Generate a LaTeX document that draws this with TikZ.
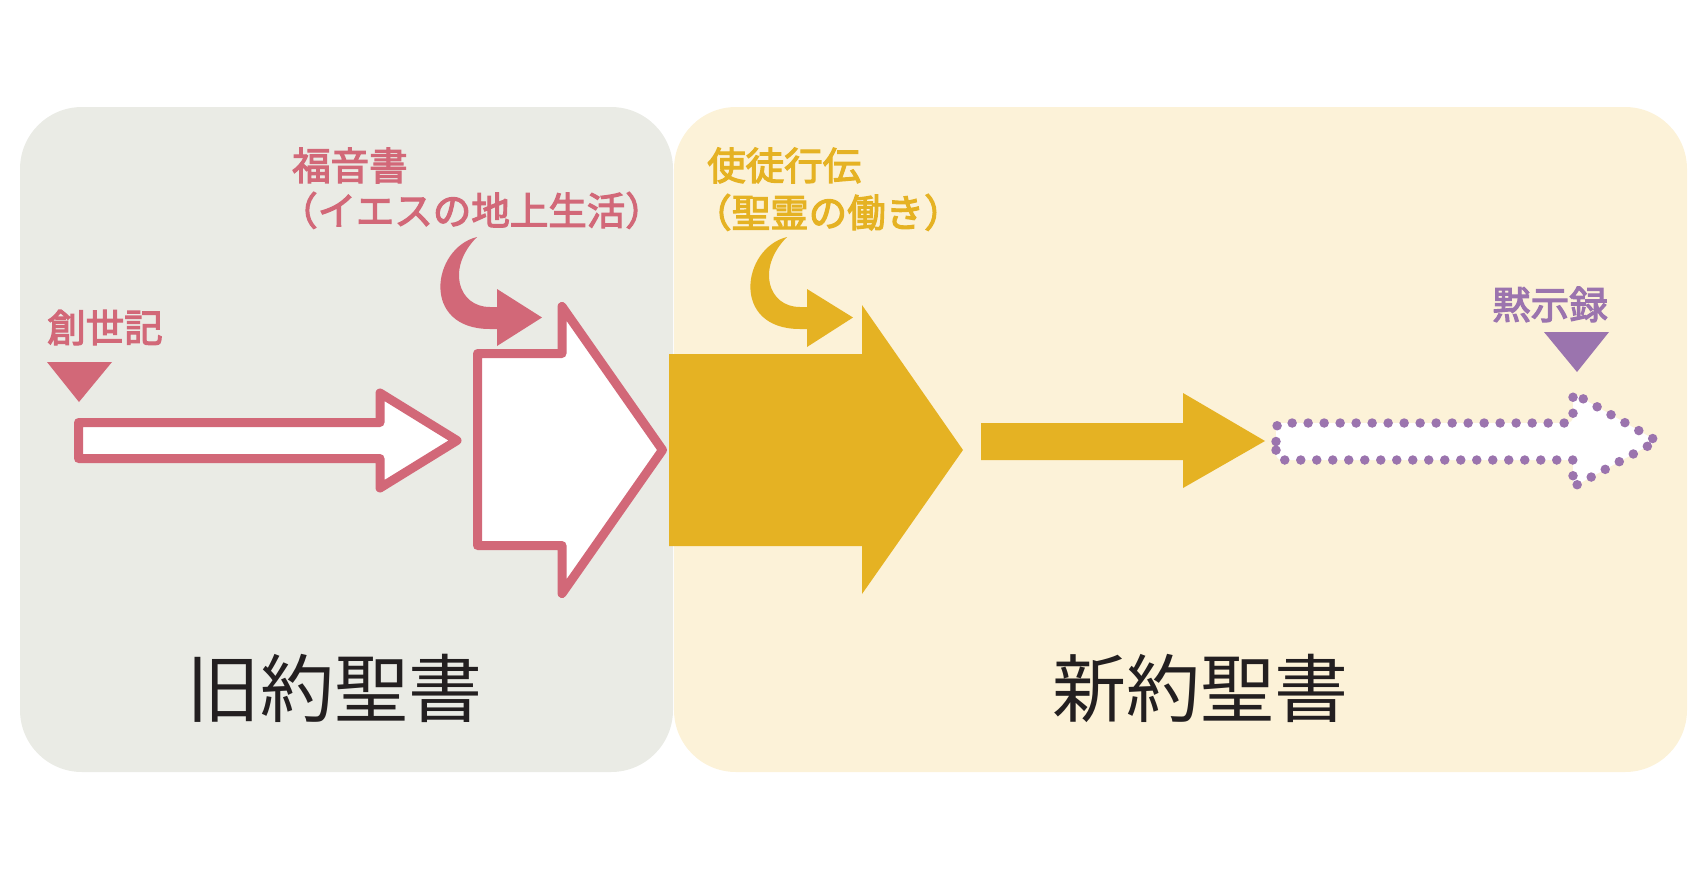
\documentclass[tikz,border=0pt]{standalone}
\usepackage{fontspec}
\newfontfamily\jp{Noto Sans CJK JP}
\newfontfamily\jpm[FakeBold=3]{Noto Sans CJK JP}
\definecolor{pinkc}{HTML}{D26878}
\definecolor{goldc}{HTML}{E5B223}
\definecolor{purplec}{HTML}{9B74AE}
\definecolor{graybg}{HTML}{EAEBE5}
\definecolor{yellowbg}{HTML}{FCF2D8}
\definecolor{titlec}{HTML}{231F20}
\tikzset{
  panel/.style={rounded corners=62pt},
  lbl/.style={inner sep=0pt, anchor=base west, font=\jpm\fontsize{38.5}{40}\selectfont},
  ttl/.style={inner sep=0pt, anchor=base, text=titlec, font=\jp\fontsize{74}{76}\selectfont},
  outlinearrow/.style={draw=pinkc, fill=white, line width=9pt, line join=round},
  dotarrow/.style={draw=purplec, fill=white, line width=9.5pt, line cap=round, dash pattern=on 0pt off 16pt, line join=round}
}
\begin{document}
\begin{tikzpicture}[x=1pt,y=-1pt]
\useasboundingbox (0,0) rectangle (1706,868);
% panels
\fill[graybg, panel] (20,107) rectangle (673,772);
\fill[yellowbg, panel] (674,107) rectangle (1687,772);
% small pink outlined arrow
\draw[outlinearrow] (78.5,422.5) -- (380,422.5) -- (380,393) -- (457,440.5) -- (380,488) -- (380,458.5) -- (78.5,458.5) -- cycle;
% big pink outlined arrow
\draw[outlinearrow] (477.5,353.5) -- (562,353.5) -- (562,306.5) -- (662.5,450) -- (562,593.5) -- (562,545.5) -- (477.5,545.5) -- cycle;
% big gold arrow
\fill[goldc] (669,354) -- (862,354) -- (862,305) -- (963,450) -- (862,594) -- (862,546) -- (669,546) -- cycle;
% small gold arrow
\fill[goldc] (981,423) -- (1183,423) -- (1183,393) -- (1265,441) -- (1183,488) -- (1183,460) -- (981,460) -- cycle;
% dotted purple arrow
\draw[dotarrow] (1276,441.5) -- (1276,429) [rounded corners=6pt] -- (1276,423) -- (1573,423) [sharp corners] -- (1573,393) -- (1657,441) -- (1573,487) -- (1573,460) [rounded corners=6pt] -- (1276,460) [sharp corners] -- (1276,441.5);
% triangles
\fill[pinkc] (47,362) -- (112,362) -- (79,402) -- cycle;
\fill[purplec] (1544,332) -- (1609,332) -- (1577,372) -- cycle;
% curved arrows
\fill[pinkc] (477,237) .. controls (432,248) and (420,329) .. (490,329) -- (497,329) -- (497,346) -- (542,317.5) -- (497,289) -- (497,307) -- (490,307) .. controls (458,307) and (446,268) .. (477,237) -- cycle;
\begin{scope}[shift={(310,0)}]
\fill[goldc] (477,237) .. controls (432,248) and (420,329) .. (490,329) -- (497,329) -- (497,347) -- (543,317.5) -- (497,289) -- (497,307) -- (490,307) .. controls (458,307) and (446,268) .. (477,237) -- cycle;
\end{scope}
% labels
\node[lbl, text=pinkc] (gospel) at (292,180) {福音書};
\node[lbl, text=pinkc] (gospelsub) at (279,225) {（イエスの地上生活）};
\node[lbl, text=goldc] (acts) at (707,180) {使徒行伝};
\node[lbl, text=goldc] (actssub) at (693,227) {（聖霊の働き）};
\node[lbl, text=pinkc] (genesis) at (47,342) {創世記};
\node[lbl, text=purplec] (revelation) at (1492,319) {黙示録};
% titles
\node[ttl] (ot) at (334,716) {旧約聖書};
\node[ttl] (nt) at (1200,716) {新約聖書};
\end{tikzpicture}
\end{document}
